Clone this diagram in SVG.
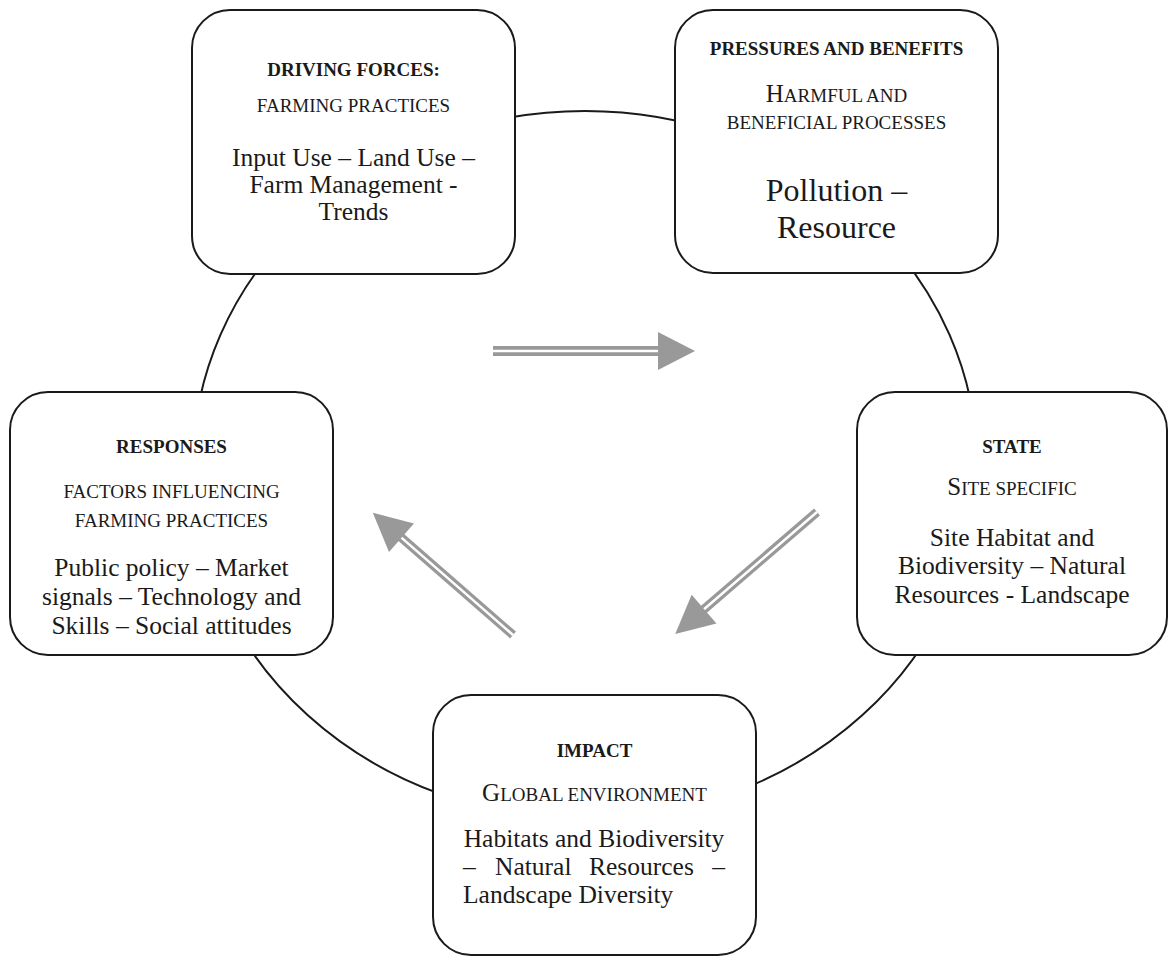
<svg xmlns="http://www.w3.org/2000/svg" width="1173" height="958" viewBox="0 0 1173 958">
<style>
.box{fill:#fff;stroke:#1a1a1a;stroke-width:2}
.ring{fill:none;stroke:#1a1a1a;stroke-width:2}
text{font-family:"Liberation Serif","Times New Roman",serif;fill:#1a1a1a;text-anchor:middle}
.t{font-weight:bold;font-size:19px}
.s{font-size:19px}
.big{font-size:25px}
.b{font-size:25.5px}
.p{font-size:32px}
.shaft{stroke:#999;stroke-width:10;fill:none}
.gap{stroke:#fff;stroke-width:2.5;fill:none}
.head{fill:#999}
</style>
<rect width="1173" height="958" fill="#fff"/>
<ellipse class="ring" cx="585" cy="465" rx="392" ry="354"/>
<g id="connectors">
<g transform="translate(493,351)">
<line class="shaft" x1="0" y1="0" x2="167" y2="0"/>
<line class="gap" x1="0" y1="0" x2="167" y2="0"/>
<polygon class="head" points="165,-19 202,0 165,19"/>
</g>
<g transform="translate(513,635) rotate(-138.9)">
<line class="shaft" x1="0" y1="0" x2="150" y2="0" style="stroke-width:9"/>
<line class="gap" x1="0" y1="0" x2="150" y2="0"/>
<polygon class="head" points="148,-19 186,0 148,19"/>
</g>
<g transform="translate(817,512) rotate(139.3)">
<line class="shaft" x1="0" y1="0" x2="151" y2="0" style="stroke-width:9"/>
<line class="gap" x1="0" y1="0" x2="151" y2="0"/>
<polygon class="head" points="149,-19 187,0 149,19"/>
</g>
</g>
<g id="driving">
<rect class="box" x="192" y="10" width="323" height="264" rx="38"/>
<text class="t" x="353.5" y="76">DRIVING FORCES:</text>
<text class="s" x="353.5" y="112">FARMING PRACTICES</text>
<text class="b" x="353.5" y="166">Input Use – Land Use –</text>
<text class="b" x="353.5" y="193">Farm Management -</text>
<text class="b" x="353.5" y="220">Trends</text>
</g>
<g id="pressures">
<rect class="box" x="675" y="10" width="323" height="263" rx="38"/>
<text class="t" x="836.5" y="55">PRESSURES AND BENEFITS</text>
<text class="s" x="836.5" y="102"><tspan class="big">H</tspan>ARMFUL AND</text>
<text class="s" x="836.5" y="129">BENEFICIAL PROCESSES</text>
<text class="p" x="836.5" y="201">Pollution –</text>
<text class="p" x="836.5" y="238">Resource</text>
</g>
<g id="responses">
<rect class="box" x="10" y="392" width="323" height="263" rx="38"/>
<text class="t" x="171.5" y="453">RESPONSES</text>
<text class="s" x="171.5" y="498">FACTORS INFLUENCING</text>
<text class="s" x="171.5" y="527">FARMING PRACTICES</text>
<text class="b" x="171.5" y="576">Public policy – Market</text>
<text class="b" x="171.5" y="605">signals – Technology and</text>
<text class="b" x="171.5" y="634">Skills – Social attitudes</text>
</g>
<g id="state">
<rect class="box" x="857" y="392" width="310" height="263" rx="38"/>
<text class="t" x="1012" y="453">STATE</text>
<text class="s" x="1012" y="495"><tspan class="big">S</tspan>ITE SPECIFIC</text>
<text class="b" x="1012" y="546">Site Habitat and</text>
<text class="b" x="1012" y="574">Biodiversity – Natural</text>
<text class="b" x="1012" y="603">Resources - Landscape</text>
</g>
<g id="impact">
<rect class="box" x="433" y="695" width="323" height="260" rx="38"/>
<text class="t" x="594.5" y="757">IMPACT</text>
<text class="s" x="594.5" y="801"><tspan class="big">G</tspan>LOBAL ENVIRONMENT</text>
<text class="b" x="594" y="847">Habitats and Biodiversity</text>
<text class="b" x="463" y="875" style="text-anchor:start">–</text>
<text class="b" x="495" y="875" style="text-anchor:start">Natural</text>
<text class="b" x="589" y="875" style="text-anchor:start">Resources</text>
<text class="b" x="725" y="875" style="text-anchor:end">–</text>
<text class="b" x="463" y="903" style="text-anchor:start">Landscape Diversity</text>
</g>
</svg>
